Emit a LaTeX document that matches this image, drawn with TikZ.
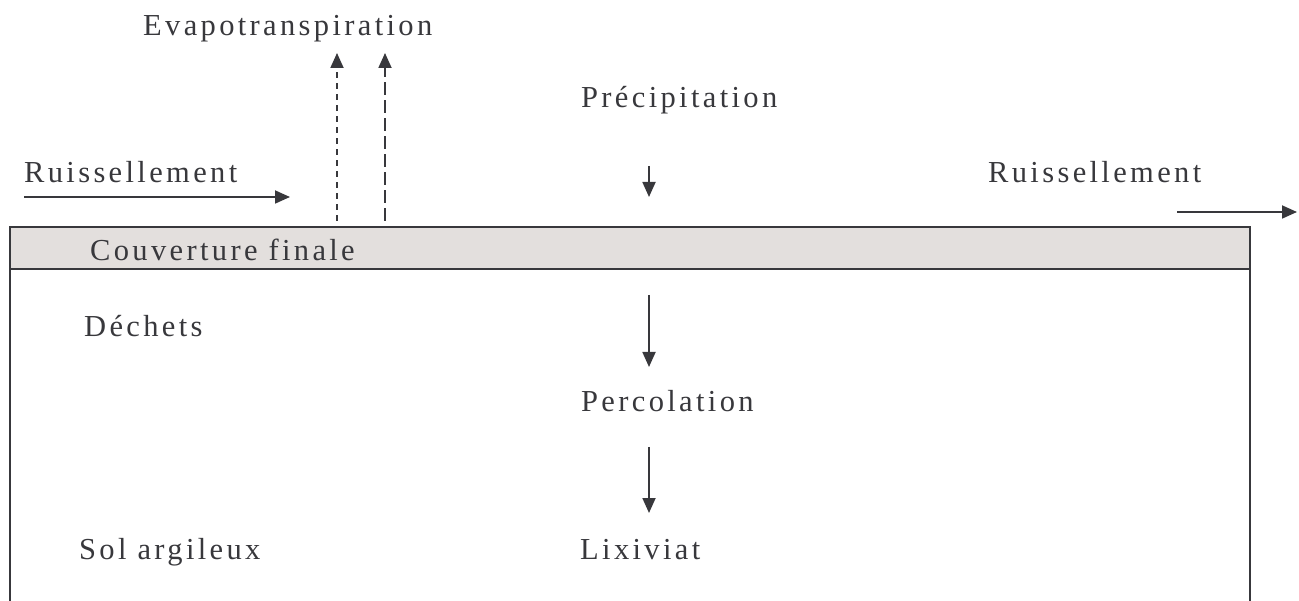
\documentclass[tikz,border=0pt]{standalone}
\usepackage{fontspec}
\setmainfont{Liberation Serif}[LetterSpace=11]
\usetikzlibrary{arrows.meta}
\definecolor{ink}{HTML}{38383C}
\definecolor{band}{HTML}{E3DFDD}
\tikzset{
  lbl/.style={anchor=base west, inner sep=0pt, text=ink, font=\fontsize{30.5}{34}\selectfont},
  flow/.style={draw=ink, line width=1.8pt, -{Triangle[length=15pt,width=13pt]}},
  dashA/.style={flow, dash pattern=on 6pt off 5pt},
  dashB/.style={flow, dash pattern=on 13pt off 5pt},
  wall/.style={draw=ink, line width=2.2pt}
}
\begin{document}
\begin{tikzpicture}[x=1pt,y=-1pt]
\useasboundingbox (0,0) rectangle (1299,601);
% band and walls
\draw[wall, fill=band] (10,227) rectangle (1250,269);
\draw[wall] (10,269) -- (10,601);
\draw[wall] (1250,269) -- (1250,601);
% labels
\node[lbl] (evap) at (143,36) {Evapotranspiration};
\node[lbl] (prec) at (581,108) {Précipitation};
\node[lbl] (ruisL) at (24,183) {Ruissellement};
\node[lbl] (ruisR) at (988,183) {Ruissellement};
\node[lbl] (couv) at (90,261) {Couverture finale};
\node[lbl] (dech) at (84,337) {Déchets};
\node[lbl] (perc) at (581,412) {Percolation};
\node[lbl] (sol) at (79,559) {Sol argileux};
\node[lbl] (lix) at (580,559) {Lixiviat};
% connector endpoints
\coordinate (rl1) at (24,197); \coordinate (rl2) at (290,197);
\coordinate (rr1) at (1177,212); \coordinate (rr2) at (1297,212);
\coordinate (e1a) at (337,221); \coordinate (e1b) at (337,53);
\coordinate (e2a) at (385,221); \coordinate (e2b) at (385,53);
\coordinate (p1) at (649,166); \coordinate (p2) at (649,197);
\coordinate (c1) at (649,295); \coordinate (c2) at (649,367);
\coordinate (l1) at (649,447); \coordinate (l2) at (649,513);
% arrows
\draw[flow] (rl1) -- (rl2);
\draw[flow] (rr1) -- (rr2);
\draw[dashA] (e1a) -- (e1b);
\draw[dashB] (e2a) -- (e2b);
\draw[flow] (p1) -- (p2);
\draw[flow] (c1) -- (c2);
\draw[flow] (l1) -- (l2);
\end{tikzpicture}
\end{document}
